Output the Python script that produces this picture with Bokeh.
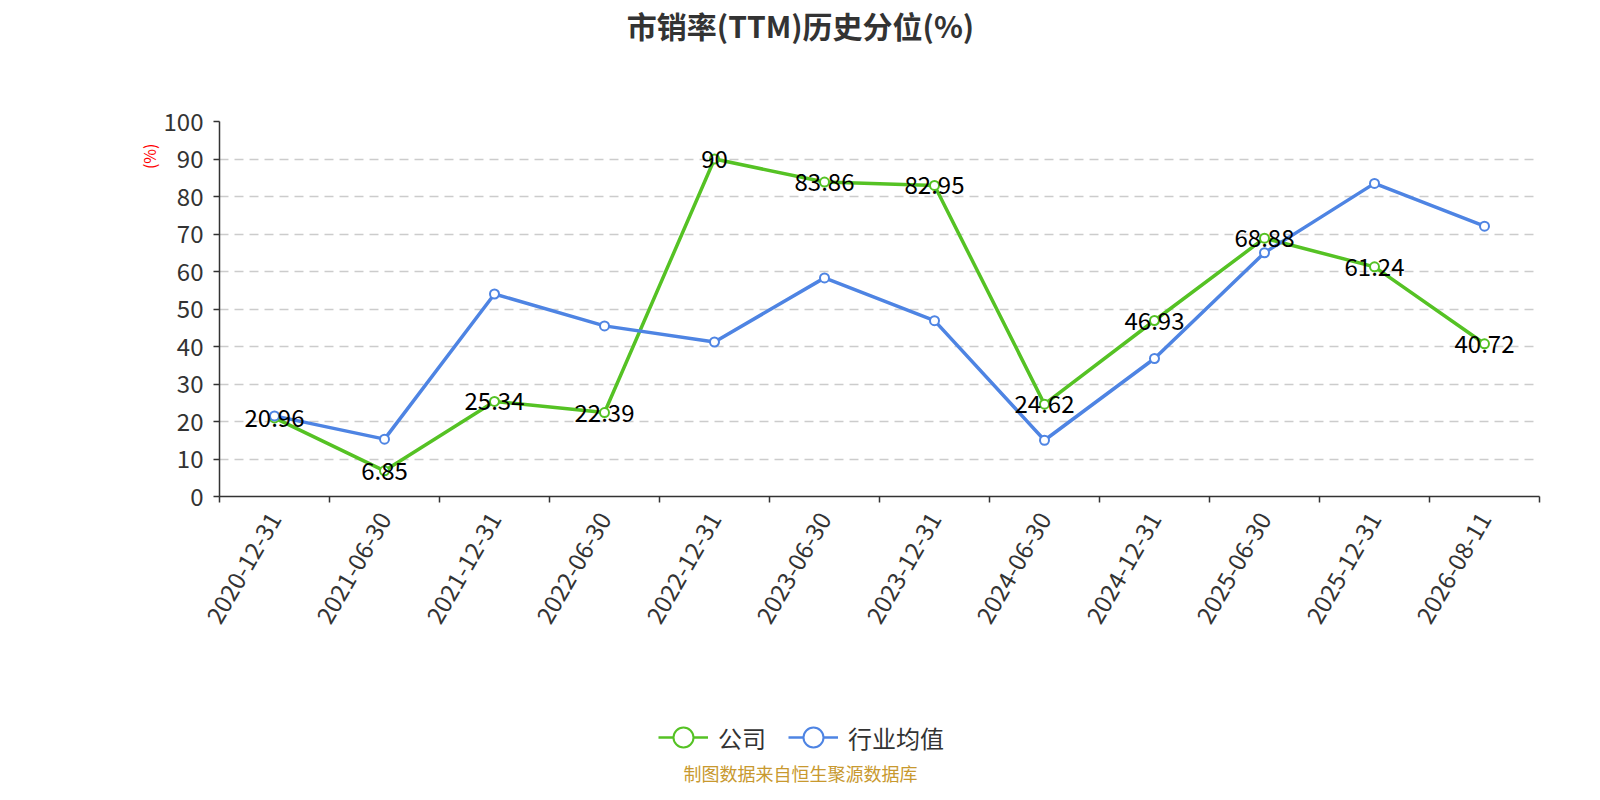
import math
from bokeh.plotting import figure
from bokeh.layouts import column
from bokeh.models import (FactorRange, Range1d, LinearAxis, CategoricalAxis, FixedTicker,
                          Legend, LegendItem, Grid, Title, Label)
from bokeh.core.properties import value
from bokeh.embed import file_html
from bokeh.resources import INLINE

# ---------------- data ----------------
dates = ["2020-12-31", "2021-06-30", "2021-12-31", "2022-06-30", "2022-12-31", "2023-06-30",
         "2023-12-31", "2024-06-30", "2024-12-31", "2025-06-30", "2025-12-31", "2026-08-11"]
company = [20.96, 6.85, 25.34, 22.39, 90, 83.86, 82.95, 24.62, 46.93, 68.88, 61.24, 40.72]
industry = [21.5, 15.3, 54.0, 45.5, 41.2, 58.3, 46.9, 15.0, 36.8, 65.0, 83.5, 72.1]
company_labels = [f"{v:g}" for v in company]
y_ticks = list(range(0, 101, 10))
series_names = ["公司", "行业均值"]
title_text = "市销率(TTM)历史分位(%)"
unit_text = "(%)"
source_text = "制图数据来自恒生聚源数据库"

FONT = "Noto Sans CJK SC"
GREEN = "#55c224"
BLUE = "#4e84e3"
W = 1584
FRAME_L = 219          # frame left edge (all figures in the column share it)
H_HEAD = 60
H_MAIN = 590
H_FOOT = 134

xr = FactorRange(*dates)


def bare(height):
    f = figure(width=W, height=height, x_range=xr, y_range=Range1d(200, 300),
               output_backend="svg", toolbar_location=None,
               x_axis_location=None, y_axis_location=None,
               min_border_left=0, min_border_right=0, min_border_top=0,
               min_border_bottom=0)
    f.outline_line_color = None
    f.center = [c for c in f.center if not isinstance(c, Grid)]
    return f


# ---------------- header: title ----------------
h = bare(H_HEAD)
h.add_layout(Label(x=800 - FRAME_L, y=H_HEAD - 24, x_units="screen", y_units="screen",
                   text=title_text, text_align="center", text_baseline="middle",
                   text_font=FONT, text_font_size="30px", text_font_style="bold",
                   text_color="#333333"))

# ---------------- main chart ----------------
p = figure(width=W, height=H_MAIN,
           x_range=xr, y_range=Range1d(0, 100),
           output_backend="svg", toolbar_location=None,
           x_axis_location=None, y_axis_location=None,
           min_border_left=FRAME_L, min_border_right=45,
           min_border_top=121 - H_HEAD, min_border_bottom=H_HEAD + H_MAIN - 496)
p.outline_line_color = None
p.background_fill_color = "white"
p.border_fill_color = "white"
p.center = [c for c in p.center if not isinstance(c, Grid)]

p.add_layout(Grid(dimension=1, ticker=FixedTicker(ticks=y_ticks),
                  grid_line_color="#cccccc", grid_line_width=1.5,
                  grid_line_dash="9 6"))

yaxis = LinearAxis(ticker=FixedTicker(ticks=y_ticks),
                   axis_line_color="#333333", axis_line_width=1.5,
                   major_tick_line_color="#333333", major_tick_line_width=1.5,
                   major_tick_out=6, major_tick_in=0,
                   minor_tick_line_color=None,
                   major_label_text_font=FONT, major_label_text_font_size="24px",
                   major_label_text_color="#333333", major_label_standoff=10)
p.add_layout(yaxis, "left")

# unit name "(%)" near the top of the y axis
unit_kw = dict(text=unit_text, align="right", offset=22, text_font=FONT,
               text_font_size="16px", text_font_style="normal", text_color="red")
if "standoff" in Title.properties():
    unit_kw["standoff"] = 0
p.add_layout(Title(**unit_kw), "left")

# x axis: boundary ticks
xticks_axis = LinearAxis(ticker=FixedTicker(ticks=list(range(len(dates) + 1))),
                         axis_line_color="#333333", axis_line_width=1.5,
                         major_tick_line_color="#333333", major_tick_line_width=1.5,
                         major_tick_out=6, major_tick_in=0,
                         minor_tick_line_color=None,
                         major_label_text_font_size="1px", major_label_text_color=None,
                         major_label_standoff=0)
p.add_layout(xticks_axis, "below")

# x axis: category labels
xaxis = CategoricalAxis(axis_line_color=None, major_tick_line_color=None,
                        minor_tick_line_color=None,
                        major_label_orientation=math.pi / 3,
                        major_label_text_font=FONT, major_label_text_font_size="24px",
                        major_label_text_color="#333333", major_label_standoff=6)
p.add_layout(xaxis, "below")

p.line(dates, company, line_color=GREEN, line_width=3.5)
p.scatter(dates, company, marker="circle", size=9, fill_color="white",
          line_color=GREEN, line_width=2)
p.line(dates, industry, line_color=BLUE, line_width=3.5)
p.scatter(dates, industry, marker="circle", size=9, fill_color="white",
          line_color=BLUE, line_width=2)

p.text(dates, company, text=company_labels, text_align="center", text_baseline="middle",
       text_font=value(FONT), text_font_size="24px", text_color="black")

# ---------------- footer: legend + source ----------------
f = bare(H_FOOT)
fg_line = f.line(dates, company, line_color=GREEN, line_width=2.5)
fg_pts = f.scatter(dates, company, marker="circle", size=9, fill_color="white",
                   line_color=GREEN, line_width=2)
fb_line = f.line(dates, industry, line_color=BLUE, line_width=2.5)
fb_pts = f.scatter(dates, industry, marker="circle", size=9, fill_color="white",
                   line_color=BLUE, line_width=2)

foot_top = H_HEAD + H_MAIN
legend = Legend(items=[LegendItem(label=series_names[0], renderers=[fg_line, fg_pts]),
                       LegendItem(label=series_names[1], renderers=[fb_line, fb_pts])],
                location=(658 - FRAME_L, H_FOOT - (737 + 25 - foot_top)),
                orientation="horizontal",
                glyph_width=50, glyph_height=50, label_height=50,
                label_standoff=10, spacing=22, padding=0, margin=0,
                border_line_color=None, background_fill_alpha=0,
                label_text_font=FONT, label_text_font_size="24px",
                label_text_color="#333333")
f.add_layout(legend, "center")

f.add_layout(Label(x=800 - FRAME_L, y=H_FOOT - (772 - foot_top), x_units="screen",
                   y_units="screen", text=source_text, text_align="center",
                   text_baseline="middle", text_font=FONT, text_font_size="18px",
                   text_color="#c8992f"))

layout = column(h, p, f, spacing=0)
open("out.html", "w").write(file_html(layout, INLINE))
